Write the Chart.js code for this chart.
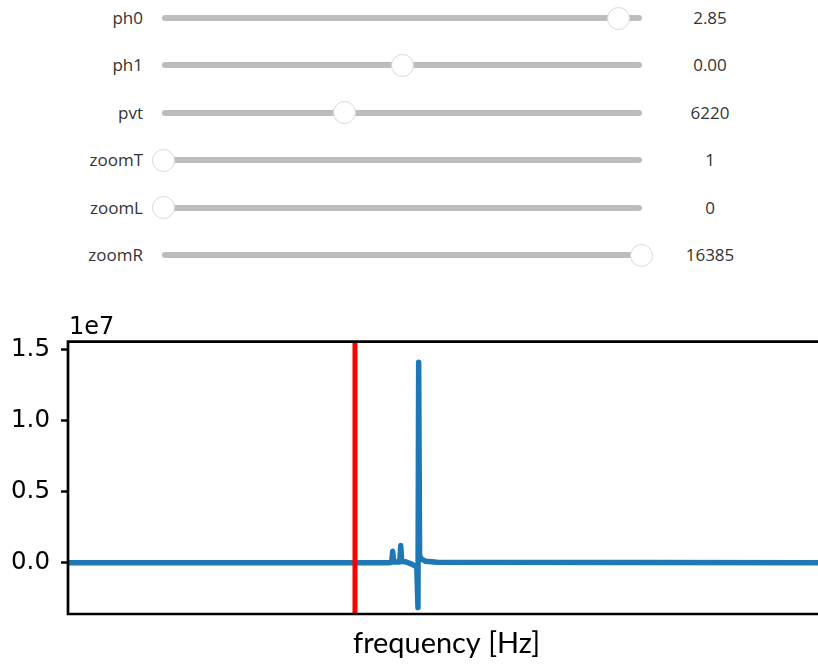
<!DOCTYPE html>
<html>
<head>
<meta charset="utf-8">
<script src="https://cdn.jsdelivr.net/npm/chart.js@4.4.0/dist/chart.umd.min.js"></script>
<style>
  html, body { margin:0; padding:0; background:#fff; width:818px; height:664px; overflow:hidden; }
  #panel { position:absolute; left:0; top:0; width:818px; height:290px; }
  .lbl, .val { position:absolute; font-family:"Open Sans", sans-serif; font-size:17px; color:#333; height:30px; line-height:30px; white-space:nowrap; }
  .lbl { text-align:right; width:120px; }
  .val { text-align:center; width:100px; }
  .track { position:absolute; height:6px; border-radius:3px; background:#bdbdbd; }
  .thumb { position:absolute; width:23px; height:23px; border-radius:50%; background:#fff; border:1px solid #d9d9d9; box-sizing:border-box; }
  #wrap { position:absolute; left:0; top:300px; width:840px; height:364px; }
</style>
</head>
<body>
<div id="panel"></div>
<div id="wrap"><canvas id="c" width="840" height="364"></canvas></div>
<script>
// ---- slider widgets ----
const sliderLabels = ["ph0", "ph1", "pvt", "zoomT", "zoomL", "zoomR"];
const sliderValues = [2.85, 0.00, 6220, 1, 0, 16385];
const sliderMins   = [-3.1416, -3.1416, 0, 1, 0, 0];
const sliderMaxs   = [3.1416, 3.1416, 16385, 10, 16385, 16385];
const sliderReadouts = ["2.85", "0.00", "6220", "1", "0", "16385"];

// ---- spectrum data (sample index vs. amplitude) ----
const freqIndex = [0, 6950, 7015, 7037, 7059, 7190, 7211, 7232, 7330, 7450, 7560, 7585, 7600, 7620, 7660, 7750, 8000, 16385];
const amplitude = [0, 0, 30000, 800000, 50000, 50000, 1200000, 100000, 50000, -100000, -300000, -3160000, 14090000, 500000, 250000, 100000, 30000, 0];
const pivotIndex = [6220];
const xLimits = [0, 16385];
const yLimits = [-3610000, 15540000];
const yTickValues = [0, 5000000, 10000000, 15000000];
const yOffsetLabel = "1e7";
const xAxisLabel = "frequency [Hz]";

// build slider panel
(function(){
  const panel = document.getElementById('panel');
  const x0 = 163, x1 = 641;
  sliderLabels.forEach((name, i) => {
    const cy = 18 + i * 47.4;
    const lbl = document.createElement('div');
    lbl.className = 'lbl'; lbl.textContent = name;
    lbl.style.left = (143 - 120) + 'px'; lbl.style.top = (cy - 15) + 'px';
    panel.appendChild(lbl);
    const tr = document.createElement('div');
    tr.className = 'track';
    tr.style.left = (x0 - 1) + 'px'; tr.style.width = (x1 - x0 + 2) + 'px'; tr.style.top = (cy - 3) + 'px';
    panel.appendChild(tr);
    const f = (sliderValues[i] - sliderMins[i]) / (sliderMaxs[i] - sliderMins[i]);
    const cx = x0 + f * (x1 - x0);
    const th = document.createElement('div');
    th.className = 'thumb';
    th.style.left = (cx - 11.5) + 'px'; th.style.top = (cy - 11.5) + 'px';
    panel.appendChild(th);
    const v = document.createElement('div');
    v.className = 'val'; v.textContent = sliderReadouts[i];
    v.style.left = (710 - 50) + 'px'; v.style.top = (cy - 15) + 'px';
    panel.appendChild(v);
  });
})();

const spectrum = freqIndex.map((x, i) => ({x: x, y: amplitude[i]}));
const pivotLine = [{x: pivotIndex[0], y: yLimits[0]}, {x: pivotIndex[0], y: yLimits[1]}];

const decorPlugin = {
  id: 'decor',
  afterDatasetsDraw(chart) {
    const ctx = chart.ctx, a = chart.chartArea;
    ctx.save();
    ctx.strokeStyle = '#000';
    ctx.lineWidth = 2.7;
    ctx.lineCap = 'square';
    ctx.beginPath();
    ctx.moveTo(a.left, a.bottom); ctx.lineTo(a.left, a.top); ctx.lineTo(a.right, a.top);
    ctx.moveTo(a.left, a.bottom); ctx.lineTo(a.right, a.bottom);
    ctx.moveTo(a.right, a.top); ctx.lineTo(a.right, a.bottom);
    ctx.stroke();
    // offset text
    ctx.fillStyle = '#000';
    ctx.font = '24px "DejaVu Sans"';
    ctx.textAlign = 'left';
    ctx.textBaseline = 'alphabetic';
    ctx.fillText(yOffsetLabel, a.left + 1, a.top - 8);
    // x label
    ctx.font = '30px Lato';
    const w = ctx.measureText(xAxisLabel).width;
    const size = 30 * 187 / w;
    ctx.font = size.toFixed(2) + 'px Lato';
    ctx.textAlign = 'center';
    ctx.fillText(xAxisLabel, 446.5, a.bottom + 39);
    ctx.restore();
  }
};

new Chart(document.getElementById('c'), {
  type: 'line',
  data: {
    datasets: [
      { data: pivotLine, borderColor: '#ff0000', borderWidth: 5, pointRadius: 0, order: 0, borderCapStyle: 'butt' },
      { data: spectrum, borderColor: '#1f77b4', borderWidth: 5.5, pointRadius: 0, tension: 0, order: 1,
        borderJoinStyle: 'round', borderCapStyle: 'round' }
    ]
  },
  options: {
    responsive: false,
    animation: false,
    devicePixelRatio: 1,
    layout: { padding: { left: 0, top: 41.7, right: 16, bottom: 0 } },
    plugins: { legend: { display: false }, tooltip: { enabled: false } },
    events: [],
    scales: {
      x: {
        type: 'linear', min: xLimits[0], max: xLimits[1],
        ticks: { display: false },
        grid: { display: false },
        border: { display: false },
        afterFit(s) { s.height = 50; }
      },
      y: {
        type: 'linear', min: yLimits[0], max: yLimits[1],
        afterBuildTicks(s) { s.ticks = yTickValues.map(v => ({value: v})); },
        ticks: {
          callback: v => (v / 1e7).toFixed(1),
          font: { family: '"DejaVu Sans"', size: 24.5 },
          color: '#000',
          padding: 11,
          autoSkip: false
        },
        grid: { drawOnChartArea: false, drawTicks: true, tickLength: 7, tickWidth: 2.5, tickColor: '#000', color: '#000' },
        border: { display: false },
        afterFit(s) { s.width = 68; }
      }
    }
  },
  plugins: [decorPlugin]
});
</script>
</body>
</html>
